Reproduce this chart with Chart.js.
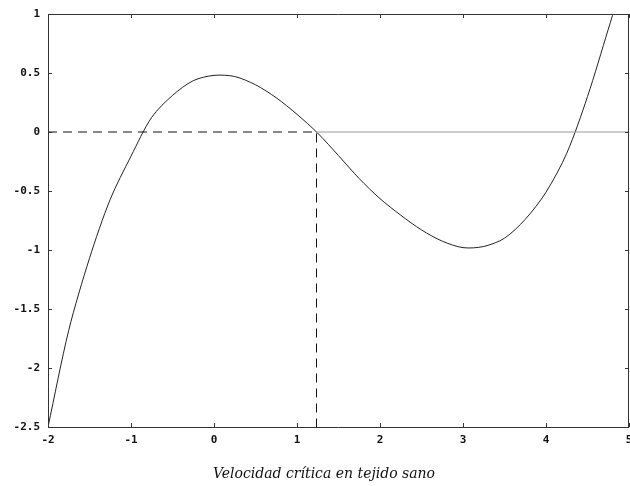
<!DOCTYPE html>
<html>
<head>
<meta charset="utf-8">
<script src="https://cdn.jsdelivr.net/npm/chart.js@4/dist/chart.umd.min.js"></script>
<style>
  html, body { margin: 0; padding: 0; background: #fff; }
  #wrap { width: 630px; height: 486px; }
</style>
</head>
<body>
<div id="wrap"><canvas id="c" width="630" height="486"></canvas></div>
<script>
// Curve samples (x, y)
const xValues = [-2, -1.75, -1.5, -1.25, -1, -0.75, -0.5, -0.25, 0, 0.25, 0.5, 0.75, 1, 1.25,
                 1.5, 1.75, 2, 2.25, 2.5, 2.75, 3, 3.25, 3.5, 3.75, 4, 4.25, 4.5, 4.75, 4.85];
const yValues = [-2.5, -1.68, -1.07, -0.57, -0.205, 0.125, 0.31, 0.435, 0.48, 0.47, 0.40, 0.29, 0.15, -0.01,
                 -0.2, -0.395, -0.565, -0.705, -0.83, -0.925, -0.98, -0.97, -0.90, -0.74, -0.51, -0.18, 0.30, 0.87, 1.1];

// Critical velocity (root of the curve marked by the dashed guides)
const critX = 1.235;

// Axis ticks
const xTicks = [-2, -1, 0, 1, 2, 3, 4, 5];
const xTickLabels = ['-2', '-1', '0', '1', '2', '3', '4', '5'];
const yTicks = [-2.5, -2, -1.5, -1, -0.5, 0, 0.5, 1];
const yTickLabels = ['-2.5', '-2', '-1.5', '-1', '-0.5', '0', '0.5', '1'];

const titleText = 'Velocidad crítica en tejido sano';

const curve = xValues.map((x, i) => ({ x: x, y: yValues[i] }));
const xMin = xTicks[0], xMax = xTicks[xTicks.length - 1];
const yMin = yTicks[0], yMax = yTicks[yTicks.length - 1];

const tickFont = { family: '"DejaVu Sans Mono", monospace', size: 11, weight: 'bold' };

// Frame, inward tick marks on all four sides, and the caption under the axis
const framePlugin = {
  id: 'frame',
  afterDraw(chart) {
    const { ctx, chartArea: a, scales } = chart;
    const len = 4;
    ctx.save();
    ctx.strokeStyle = '#333';
    ctx.lineWidth = 1;
    ctx.beginPath();
    ctx.rect(Math.round(a.left) + 0.5, Math.round(a.top) + 0.5,
             Math.round(a.right - a.left) - 1, Math.round(a.bottom - a.top));
    ctx.stroke();
    ctx.beginPath();
    xTicks.forEach(v => {
      const px = Math.round(scales.x.getPixelForValue(v)) + 0.5;
      ctx.moveTo(px, a.bottom); ctx.lineTo(px, a.bottom - len);
      ctx.moveTo(px, a.top); ctx.lineTo(px, a.top + len);
    });
    yTicks.forEach(v => {
      const py = Math.round(scales.y.getPixelForValue(v)) + 0.5;
      ctx.moveTo(a.left, py); ctx.lineTo(a.left + len, py);
      ctx.moveTo(a.right, py); ctx.lineTo(a.right - len, py);
    });
    ctx.stroke();

    ctx.fillStyle = '#111';
    ctx.font = 'italic 14px "DejaVu Serif", serif';
    ctx.textAlign = 'center';
    ctx.textBaseline = 'alphabetic';
    ctx.fillText(titleText, 324, 478);
    ctx.restore();
  }
};

new Chart(document.getElementById('c'), {
  type: 'line',
  data: {
    datasets: [
      {
        // y = 0 reference line beyond the critical point
        data: [{ x: critX, y: 0 }, { x: xMax, y: 0 }],
        borderColor: '#9a9a9a',
        borderWidth: 1,
        pointRadius: 0,
        tension: 0
      },
      {
        // dashed guides to the critical point
        data: [{ x: xMin, y: 0 }, { x: critX, y: 0 }, { x: critX, y: yMin }],
        borderColor: '#111',
        borderWidth: 1,
        borderDash: [9, 6],
        pointRadius: 0,
        tension: 0
      },
      {
        data: curve,
        borderColor: '#222',
        borderWidth: 1,
        pointRadius: 0,
        tension: 0.3
      }
    ]
  },
  options: {
    responsive: false,
    animation: false,
    layout: { padding: { top: 14, right: 1, bottom: 33, left: 0 } },
    plugins: {
      legend: { display: false },
      tooltip: { enabled: false },
      title: { display: false }
    },
    scales: {
      x: {
        type: 'linear',
        min: xMin,
        max: xMax,
        afterFit(s) { s.height = 26; s.paddingLeft = 0; s.paddingRight = 0; },
        afterBuildTicks(s) { s.ticks = xTicks.map(v => ({ value: v })); },
        grid: { display: false, drawTicks: false },
        border: { display: false },
        ticks: {
          padding: 7,
          color: '#111',
          font: tickFont,
          maxRotation: 0,
          autoSkip: false,
          callback: (v) => xTickLabels[xTicks.indexOf(v)]
        }
      },
      y: {
        type: 'linear',
        min: yMin,
        max: yMax,
        afterFit(s) { s.width = 48; s.paddingTop = 0; s.paddingBottom = 0; },
        afterBuildTicks(s) { s.ticks = yTicks.map(v => ({ value: v })); },
        grid: { display: false, drawTicks: false },
        border: { display: false },
        ticks: {
          padding: 8,
          color: '#111',
          font: tickFont,
          autoSkip: false,
          callback: (v) => yTickLabels[yTicks.indexOf(v)]
        }
      }
    }
  },
  plugins: [framePlugin]
});
</script>
</body>
</html>
